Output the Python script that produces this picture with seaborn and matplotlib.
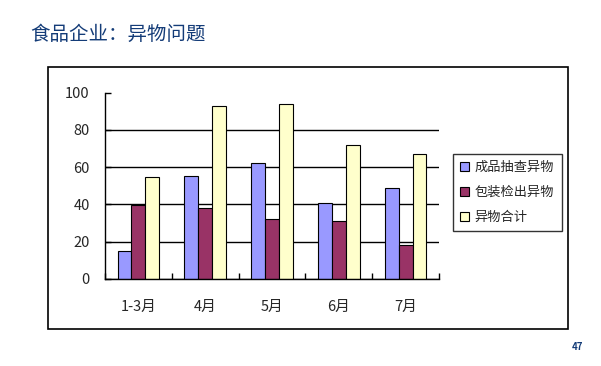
import matplotlib
matplotlib.use("Agg")
import matplotlib.pyplot as plt
from matplotlib.patches import Rectangle
from matplotlib.ticker import FixedLocator
import seaborn as sns
import pandas as pd

# data
months = ["1-3月", "4月", "5月", "6月", "7月"]
series_names = ["成品抽查异物", "包装检出异物", "异物合计"]
sampled = [15, 55, 62, 40.5, 49]      # 成品抽查异物
packing = [39.5, 38, 32, 31, 18]       # 包装检出异物
total = [54.5, 92.5, 94, 72, 67]       # 异物合计
colors = ["#9999FF", "#993366", "#FFFFCC"]

rows = []
for name, vals in zip(series_names, [sampled, packing, total]):
    for m, v in zip(months, vals):
        rows.append({"月份": m, "系列": name, "数量": v})
df = pd.DataFrame(rows)

sns.set_theme(style="white")
plt.rcParams["font.family"] = ["Noto Sans CJK SC", "DejaVu Sans"]

fig = plt.figure(figsize=(6.01, 3.66), dpi=100)
ax = fig.add_axes([105 / 601, 1 - 279 / 366, 334 / 601, (279 - 92.5) / 366])

sns.barplot(data=df, x="月份", y="数量", hue="系列", order=months,
            hue_order=series_names, palette=colors, width=0.62,
            edgecolor="black", linewidth=0.8, saturation=1, ax=ax)

ax.set_ylim(0, 100)
ax.set_xlim(-0.5, len(months) - 0.5)
ax.set_yticks([0, 20, 40, 60, 80, 100])
ax.set_xlabel("")
ax.set_ylabel("")
ax.tick_params(axis="y", direction="in", length=4, width=1, color="black",
               labelsize=10.5, pad=11, left=True)
ax.tick_params(axis="x", which="major", length=0, labelsize=10.5, pad=15)
ax.xaxis.set_minor_locator(FixedLocator([i - 0.5 for i in range(len(months) + 1)]))
ax.tick_params(axis="x", which="minor", direction="in", length=4, width=1,
               color="black", bottom=True)

ax.yaxis.grid(True, color="black", linewidth=1)
ax.get_ygridlines()[-1].set_visible(False)
ax.set_axisbelow(True)
for s in ["top", "right"]:
    ax.spines[s].set_visible(False)
for s in ["left", "bottom"]:
    ax.spines[s].set_color("black")
    ax.spines[s].set_linewidth(1)

leg = ax.legend(loc="upper left", bbox_to_anchor=(453 / 601, 1 - 154 / 366),
                bbox_transform=fig.transFigure, frameon=True, fancybox=False,
                fontsize=9.5, handlelength=0.7, handleheight=0.7,
                handletextpad=0.4, labelspacing=0.9, borderpad=0.55,
                borderaxespad=0)
leg.get_frame().set_edgecolor("black")
leg.get_frame().set_linewidth(1)

fig.add_artist(Rectangle((48 / 601, 1 - 329 / 366), 520 / 601, 262.5 / 366,
                         transform=fig.transFigure, fill=False,
                         edgecolor="black", linewidth=1.2))

fig.text(30 / 601, 1 - 34 / 366, "食品企业：异物问题", fontsize=14,
         color="#143C78", va="center", ha="left")
fig.text(577 / 601, 1 - 347 / 366, "47", fontsize=7, fontweight="bold",
         color="#143C78", va="center", ha="center")

fig.savefig("out.png", dpi=100)
